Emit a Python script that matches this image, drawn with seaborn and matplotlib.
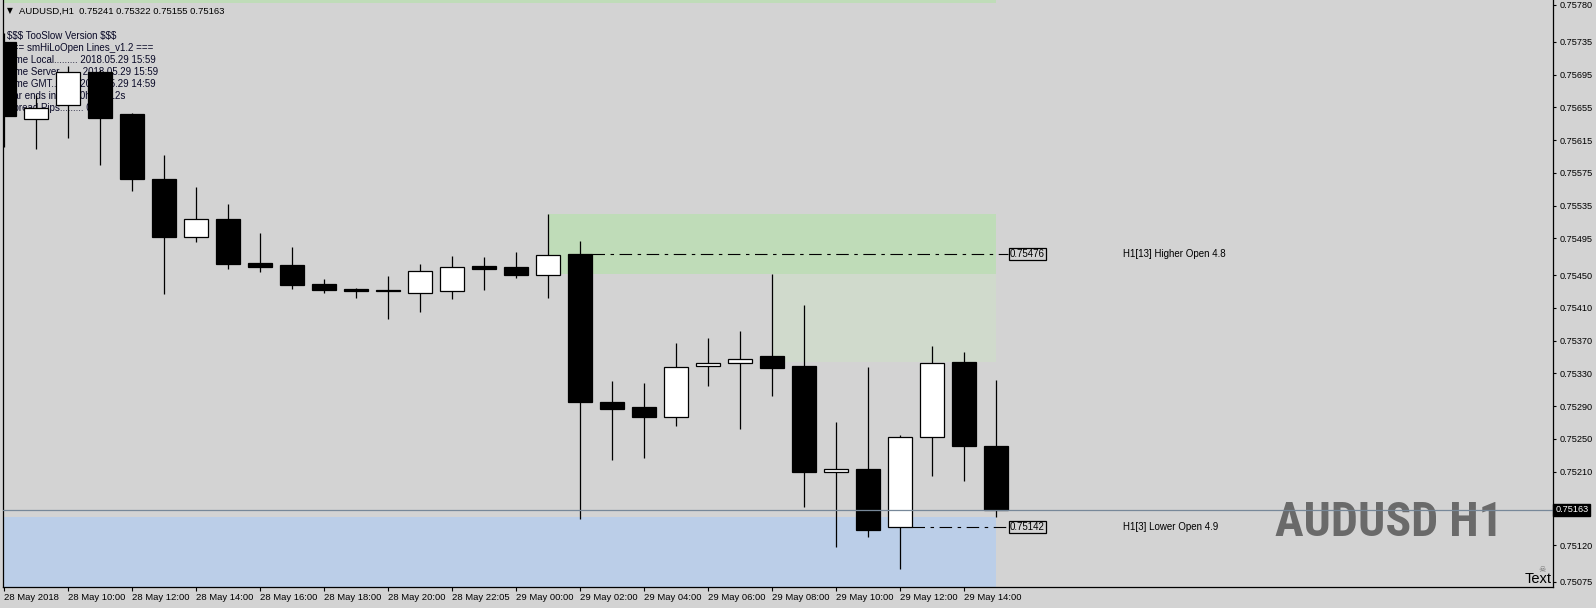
import matplotlib
matplotlib.use("Agg")
import matplotlib.pyplot as plt
import matplotlib.transforms as mtrans
from matplotlib import font_manager as fm
import seaborn as sns
import numpy as np

# ---------------- data ----------------
opens = [0.75735, 0.75641, 0.75658, 0.75698, 0.75647, 0.75567, 0.75496, 0.75519,
         0.75465, 0.75462, 0.75439, 0.75433, 0.75432, 0.75428, 0.75430, 0.75461,
         0.75460, 0.75450, 0.75476, 0.75295, 0.75289, 0.75277, 0.75339, 0.75343,
         0.75351, 0.75339, 0.75209, 0.75213, 0.75142, 0.75252, 0.75344, 0.75241]
highs = [0.75746, 0.75670, 0.75706, 0.75701, 0.75648, 0.75597, 0.75558, 0.75537,
         0.75501, 0.75484, 0.75445, 0.75434, 0.75449, 0.75463, 0.75473, 0.75472,
         0.75478, 0.75525, 0.75492, 0.75321, 0.75318, 0.75367, 0.75373, 0.75382,
         0.75451, 0.75413, 0.75271, 0.75338, 0.75255, 0.75363, 0.75356, 0.75322]
lows = [0.75606, 0.75604, 0.75618, 0.75585, 0.75553, 0.75427, 0.75491, 0.75458,
        0.75454, 0.75433, 0.75428, 0.75422, 0.75396, 0.75405, 0.75421, 0.75432,
        0.75447, 0.75422, 0.75152, 0.75224, 0.75227, 0.75265, 0.75315, 0.75262,
        0.75302, 0.75167, 0.75118, 0.75130, 0.75091, 0.75204, 0.75199, 0.75155]
closes = [0.75644, 0.75654, 0.75698, 0.75642, 0.75567, 0.75496, 0.75518, 0.75464,
          0.75460, 0.75438, 0.75432, 0.75430, 0.75430, 0.75455, 0.75460, 0.75457,
          0.75450, 0.75475, 0.75295, 0.75286, 0.75277, 0.75338, 0.75343, 0.75348,
          0.75337, 0.75209, 0.75213, 0.75139, 0.75252, 0.75343, 0.75241, 0.75163]

x_tick_labels = ["28 May 2018", "28 May 10:00", "28 May 12:00", "28 May 14:00",
                 "28 May 16:00", "28 May 18:00", "28 May 20:00", "28 May 22:05",
                 "29 May 00:00", "29 May 02:00", "29 May 04:00", "29 May 06:00",
                 "29 May 08:00", "29 May 10:00", "29 May 12:00", "29 May 14:00"]
y_tick_values = [0.75780, 0.75735, 0.75695, 0.75655, 0.75615, 0.75575, 0.75535,
                 0.75495, 0.75450, 0.75410, 0.75370, 0.75330, 0.75290, 0.75250,
                 0.75210, 0.75120, 0.75075]

current_price = 0.75163
higher_open = 0.75476
lower_open = 0.75142
higher_zone = (0.75451, 0.75525)
higher_zone2 = (0.75344, 0.75451)
top_zone = (0.75783, 0.75800)
lower_zone = (0.75000, 0.75155)

header = "AUDUSD,H1  0.75241 0.75322 0.75155 0.75163"
info_lines = ["$$$ TooSlow Version $$$",
              "=== smHiLoOpen Lines_v1.2 ===",
              "Time Local......... 2018.05.29 15:59",
              "Time Server........ 2018.05.29 15:59",
              "Time GMT.......... 2018.05.29 14:59",
              "Bar ends in........ 0h 0m 12s",
              "Spread Pips......... 0.4"]
higher_label = "H1[13] Higher Open 4.8"
lower_label = "H1[3] Lower Open 4.9"
big_label = "AUDUSD H1"

# ---------------- style ----------------
W, H = 1596, 608
BG = "#d3d3d3"
sns.set_theme(style="white", rc={"axes.facecolor": BG, "figure.facecolor": BG})
plt.rcParams["font.family"] = ["Liberation Sans", "DejaVu Sans"]
plt.rcParams["lines.scale_dashes"] = False

fig = plt.figure(figsize=(W / 100, H / 100), dpi=100)
ax_left, ax_right, ax_top, ax_bot = 3, 1553, 0, 587
ax = fig.add_axes([ax_left / W, 1 - ax_bot / H, (ax_right - ax_left) / W, (ax_bot - ax_top) / H])

def fx(px):
    return px / W

def fy(py):
    return 1 - py / H

n = len(opens)
xs = np.arange(n)

# zones
green = "#bfdcb8"
ax.fill_between([-1, 31], *top_zone, color=green, lw=0, zorder=0.5)
ax.fill_between([17, 31], *higher_zone, color=green, lw=0, zorder=0.5)
ax.fill_between([24, 31], *higher_zone2, color="#d0dacc", lw=0, zorder=0.5)
ax.fill_between([-1, 31], *lower_zone, color="#bbcee8", lw=0, zorder=0.5)

# info text (under candles)
tf = fig.transFigure
ax.text(fx(7), fy(11), "\u25bc", transform=tf, fontsize=5.5, family="DejaVu Sans",
        ha="left", va="center", color="black", zorder=6)
ax.text(fx(19), fy(11), header, transform=tf, fontsize=6.8, ha="left", va="center",
        color="black", zorder=6)
for i, line in enumerate(info_lines):
    ax.text(fx(7), fy(36 + 12 * i), line, transform=tf, fontsize=7.0, ha="left",
            va="center", color="#0a0a28", zorder=1, parse_math=False)

# big label (under price line) - pick a condensed bold face if one is installed
def pick_condensed_bold():
    best = None
    for f in fm.fontManager.ttflist:
        fname = f.fname.lower()
        narrow = ("condensed" in fname or "narrow" in fname or
                  str(f.stretch) in ("condensed", "semi-condensed", "extra-condensed"))
        w = f.weight if isinstance(f.weight, int) else (700 if "bold" in str(f.weight) else 400)
        if narrow and w >= 600 and "italic" not in fname and "oblique" not in fname:
            score = 0 if "roboto" in fname else (1 if "liberation" in fname else 2)
            if best is None or score < best[0]:
                best = (score, f.fname)
    return best[1] if best else None

cf = pick_condensed_bold()
if cf:
    big_fp = fm.FontProperties(fname=cf, size=40)
else:
    big_fp = fm.FontProperties(family="Liberation Sans", weight="bold", size=40)
big = ax.text(fx(1503), fy(536), big_label, transform=tf, fontproperties=big_fp,
              ha="right", va="baseline", color="#6a6a6a", zorder=1.5)

# candles
ax.vlines(xs, lows, highs, color="black", lw=0.9, zorder=3)
o = np.array(opens)
c = np.array(closes)
bottoms = np.minimum(o, c)
heights = np.maximum(np.abs(c - o), 0.00002)
fills = ["white" if cc > oo else "black" for oo, cc in zip(opens, closes)]
ax.bar(xs, heights, bottom=bottoms, width=0.75, color=fills, edgecolor="black",
       linewidth=0.9, zorder=4)

# current price line
ax.axhline(current_price, color="#778899", lw=0.9, zorder=5)

# open lines
dashdot = (0, (9, 4, 2.5, 4))
ax.plot([18.38, 31.4], [higher_open, higher_open], color="black", lw=0.8,
        linestyle=dashdot, zorder=5)
ax.plot([28.38, 31.4], [lower_open, lower_open], color="black", lw=0.8,
        linestyle=dashdot, zorder=5)
for val in (higher_open, lower_open):
    ax.text(31.45, val, f"{val:.5f}", fontsize=7.0, ha="left", va="center",
            color="black", zorder=6,
            bbox=dict(boxstyle="square,pad=0.12", fc=BG, ec="black", lw=0.9))
ax.text(34.98, higher_open, higher_label, fontsize=7.0, ha="left", va="center",
        color="black", zorder=6)
ax.text(34.98, lower_open, lower_label, fontsize=7.0, ha="left", va="center",
        color="black", zorder=6)

# bottom-right "Text" object
ax.text(fx(1552), fy(586), "Text", transform=tf, fontsize=10.5, ha="right",
        va="bottom", color="black", zorder=6)
ax.text(fx(1542), fy(570), "\u2620", transform=tf, fontsize=6, family="DejaVu Sans",
        ha="center", va="center", color="#707070", zorder=6)

# axes limits / ticks
ppu = 81843.0
ax.set_xlim((ax_left - 3.5) / 32, (ax_right - 3.5) / 32)
ax.set_ylim(0.75780 - (ax_bot - 5) / ppu, 0.75780 + 5 / ppu)

ax.set_xticks(np.arange(0, 31, 2))
ax.set_xticklabels(x_tick_labels)
for lab in ax.get_xticklabels():
    lab.set_horizontalalignment("left")
ax.tick_params(axis="x", which="major", direction="out", length=3, width=0.8,
               color="black", labelsize=6.8, labelcolor="black", pad=1, bottom=True)

ax.yaxis.tick_right()
ax.set_yticks(y_tick_values)
ax.set_yticklabels([f"{v:.5f}" for v in y_tick_values])
ax.tick_params(axis="y", which="major", direction="out", length=2, width=0.8,
               color="black", labelsize=6.6, labelcolor="black", pad=3, right=True, left=False)

# current price tag on the axis
blend = mtrans.blended_transform_factory(ax.transAxes, ax.transData)
ax.text(1.0015, current_price, f"{current_price:.5f}", transform=blend, fontsize=6.6,
        ha="left", va="center", color="white", zorder=7, clip_on=False,
        bbox=dict(boxstyle="square,pad=0.2", fc="black", ec="black"))

for side in ("left", "bottom", "right"):
    ax.spines[side].set_visible(True)
    ax.spines[side].set_color("black")
    ax.spines[side].set_linewidth(0.9)
ax.spines["top"].set_visible(False)
ax.grid(False)

# fit the big label to the reference width (about 227 px)
renderer = fig.canvas.get_renderer()
wpx = big.get_window_extent(renderer).width
big_fp.set_size(40 * 227.0 / wpx)
big.set_fontproperties(big_fp)

fig.savefig("out.png", dpi=100, facecolor=BG)
